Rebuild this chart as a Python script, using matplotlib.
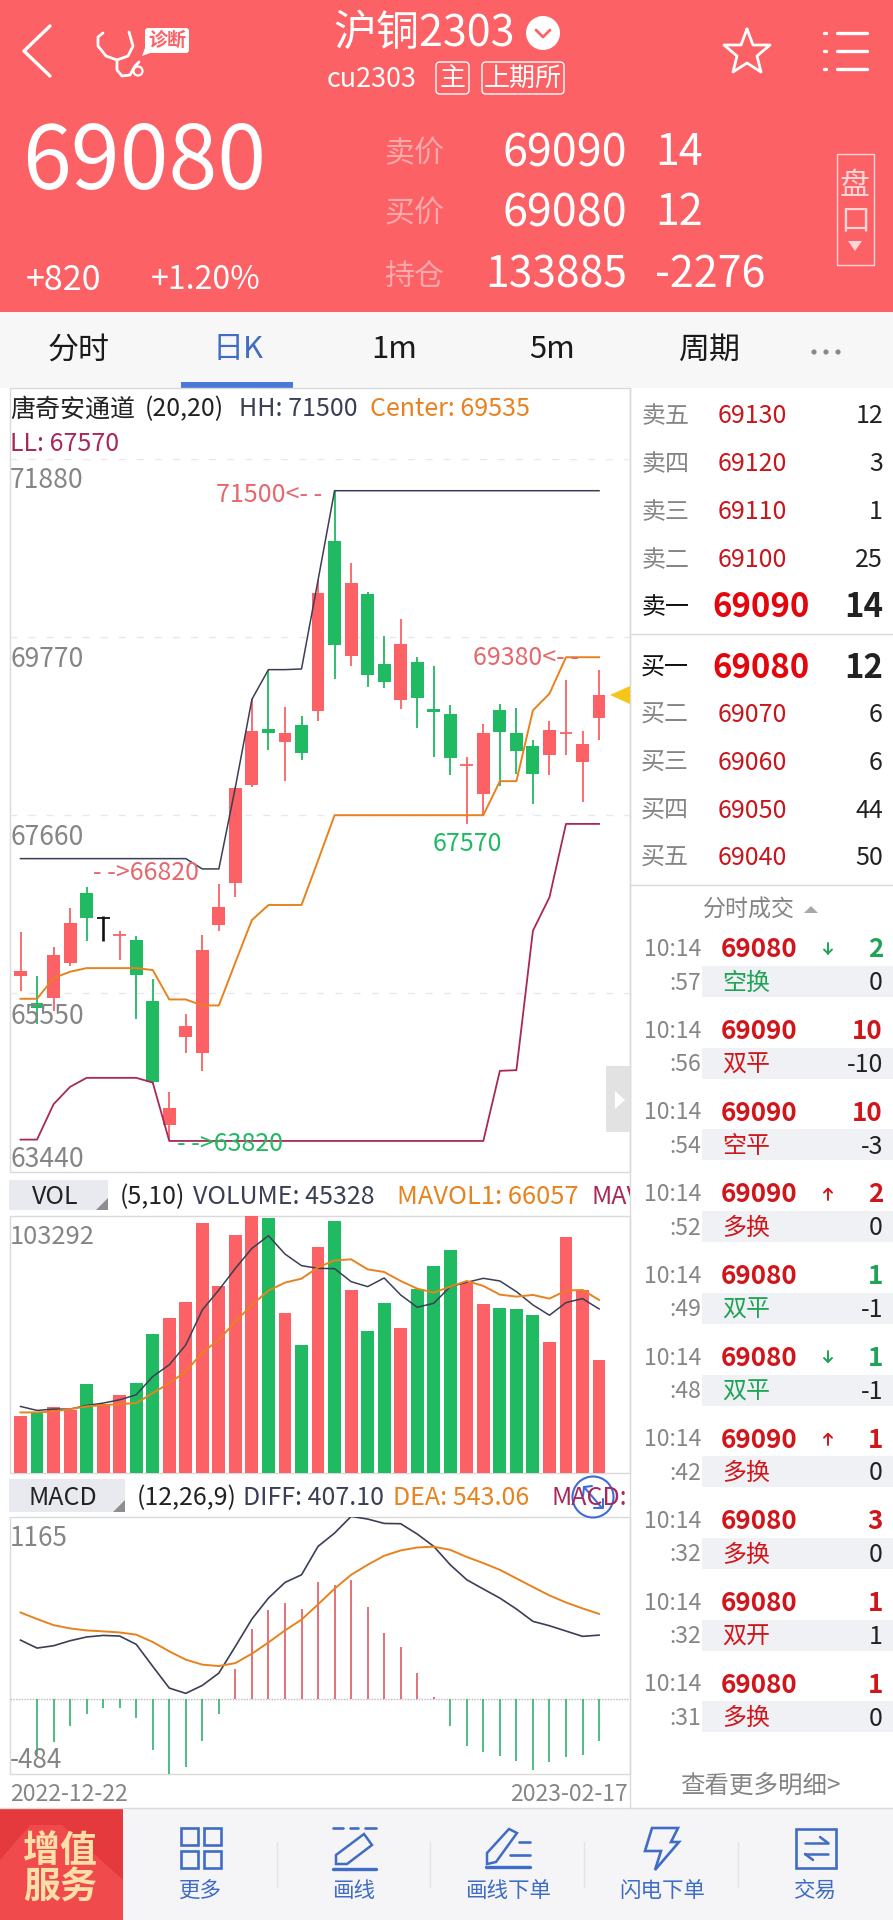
import matplotlib
matplotlib.use('Agg')
import matplotlib.pyplot as plt
from matplotlib.patches import Rectangle, Polygon, Circle, FancyBboxPatch

plt.rcParams['font.family'] = ['Noto Sans CJK SC', 'DejaVu Sans']

# K line
highs = [66281, 65760, 66103, 66566, 66807, 66471, 66293, 66230, 65720, 64385, 65305, 66246,
         66846, 67990, 69032, 69376, 68941, 68830, 70442, 71501, 70648, 70300, 69783, 69988,
         69534, 69427, 68969, 68348, 68743, 68973, 68929, 68546, 68775, 69257, 68657, 69376]
lows = [65582, 65187, 65345, 65878, 66174, 66167, 65949, 65250, 64480, 63820, 64851, 64634,
        66285, 66688, 67990, 68427, 68059, 68317, 68775, 69277, 69423, 69178, 69170, 68921,
        68696, 68348, 68139, 67557, 67656, 68000, 68151, 67794, 68131, 68368, 67814, 68554]
opens = [65760, 65432, 65495, 65910, 66739, 66439, 66242, 66182, 65463, 63990, 65029, 64851,
         66364, 66854, 68012, 68676, 68522, 68732, 68894, 70901, 69549, 70280, 69455, 69020,
         69474, 68917, 68862, 68250, 67913, 68909, 68633, 68479, 68376, 68637, 68285, 68807]
closes = [65819, 65372, 66005, 66384, 66439, 66439, 66242, 65764, 64507, 64199, 65167, 66068,
          66570, 67984, 68653, 68633, 68633, 68396, 70292, 69680, 70411, 69324, 69237, 69692,
          69052, 68886, 68337, 68250, 68633, 68641, 68415, 68151, 68672, 68637, 68498, 69080]
candle_dir = ['r', 'g', 'r', 'r', 'g', 'k', 'r', 'g', 'g', 'r', 'r', 'r', 'r', 'r', 'r', 'g', 'r', 'g',
              'r', 'g', 'r', 'g', 'g', 'r', 'g', 'g', 'g', 'r', 'r', 'g', 'g', 'g', 'r', 'r', 'r', 'r']
hh = [67146, 67146, 67146, 67146, 67146, 67146, 67146, 67146, 67146, 67146, 67146, 67024,
      67024, 67992, 69032, 69383, 69383, 69391, 70442, 71501, 71501, 71501, 71501, 71501,
      71501, 71501, 71501, 71501, 71501, 71501, 71501, 71501, 71501, 71501, 71501, 71501]
center = [65487, 65487, 65732, 65807, 65850, 65850, 65850, 65850, 65827, 65479, 65479, 65408,
          65408, 65918, 66419, 66597, 66597, 66597, 67123, 67660, 67660, 67660, 67660, 67660,
          67660, 67660, 67660, 67660, 67660, 68063, 68063, 68901, 69099, 69530, 69530, 69530]
ll = [63820, 63820, 64239, 64444, 64551, 64551, 64551, 64551, 64495, 63804, 63804, 63804,
      63804, 63804, 63804, 63804, 63804, 63804, 63804, 63804, 63804, 63804, 63804, 63804,
      63804, 63804, 63804, 63804, 63804, 64634, 64642, 66293, 66688, 67557, 67557, 67557]
price_ticks = [71880, 69770, 67660, 65550, 63440]

# VOL
volume = [22979, 24315, 26453, 25384, 35538, 27789, 31262, 36206, 55845, 62124, 68670, 100467,
          75083, 95524, 103273, 102204, 64128, 51436, 90848, 101269, 73346, 57047, 68403, 58383,
          73881, 82966, 89512, 76152, 68002, 66399, 65731, 63460, 52772, 94589, 73346, 45328]
vol_dir = ['r', 'g', 'r', 'r', 'g', 'r', 'r', 'g', 'g', 'r', 'r', 'r', 'r', 'r', 'r', 'g', 'r', 'g',
           'r', 'g', 'r', 'g', 'g', 'r', 'g', 'g', 'g', 'r', 'r', 'g', 'g', 'g', 'r', 'r', 'r', 'r']
mavol_dark = [26720, 25117, 25651, 25651, 27121, 28056, 29392, 31396, 38744, 43420, 51436, 65464,
              73480, 82164, 90180, 95257, 87909, 83233, 82164, 82030, 76820, 74816, 78290, 71476,
              66533, 68136, 74816, 76553, 78156, 77087, 72812, 67468, 63326, 68403, 70006, 65865]
mavol_orange = [24315, 24315, 24716, 25651, 26720, 27254, 27655, 28056, 32064, 36072, 40748, 48363,
                53440, 60788, 67468, 73213, 76419, 78022, 82565, 85370, 85771, 81763, 80694, 77087,
                74014, 72411, 74816, 77087, 75083, 71610, 70808, 71476, 70006, 73213, 73480, 69472]

# MACD
diff = [375, 324, 339, 371, 395, 405, 401, 348, 207, 68, 34, 85, 164, 335, 510, 644, 744, 793,
        975, 1060, 1167, 1150, 1122, 1120, 1054, 975, 857, 761, 702, 644, 574, 495, 467, 433, 399, 407]
dea = [552, 510, 471, 450, 437, 431, 424, 410, 363, 303, 250, 218, 209, 228, 288, 360, 437, 506,
       604, 704, 793, 857, 915, 949, 968, 973, 953, 907, 868, 825, 770, 715, 661, 616, 578, 543]
macd = [0, -358, -279, -173, -100, -58, -58, -126, -326, -482, -439, -273, -100, 192, 446, 567, 614, 572,
        747, 725, 757, 589, 418, 333, 164, 11, -173, -305, -343, -365, -401, -454, -407, -375, -358, -269]

# 盘口
ask_labels = ['卖五', '卖四', '卖三', '卖二', '卖一']
ask_prices = [69130, 69120, 69110, 69100, 69090]
ask_qty = [12, 3, 1, 25, 14]
bid_labels = ['买一', '买二', '买三', '买四', '买五']
bid_prices = [69080, 69070, 69060, 69050, 69040]
bid_qty = [12, 6, 6, 44, 50]

# 分时成交
tick_sec = [':57', ':56', ':54', ':52', ':49', ':48', ':42', ':32', ':32', ':31']
tick_price = [69080, 69090, 69090, 69090, 69080, 69080, 69090, 69080, 69080, 69080]
tick_arrow = ['d', '', '', 'u', '', 'd', 'u', '', '', '']
tick_qty = [2, 10, 10, 2, 1, 1, 1, 3, 1, 1]
tick_type = ['空换', '双平', '空平', '多换', '双平', '双平', '多换', '多换', '双开', '多换']
tick_side = ['g', 'r', 'r', 'r', 'g', 'g', 'r', 'r', 'r', 'r']
tick_change = [0, -10, -3, 0, -1, -1, 0, 0, 1, 0]

tab_labels = ['分时', '日K', '1m', '5m', '周期']
nav_labels = ['更多', '画线', '画线下单', '闪电下单', '交易']

W, H = 893, 1920
RED = '#FB6165'
GREEN = '#1FBA62'
DARK = '#3A3F55'
ORANGE = '#E8821E'
CRIMSON = '#A8285A'
GRAY = '#858585'
BLUE = '#3F6CC4'
DEEP = '#D0161B'
colors = {'r': RED, 'g': GREEN, 'k': '#111111'}

fig = plt.figure(figsize=(W / 100, H / 100), dpi=100, facecolor='white')


def pixel_axes(left, top, right, bottom, z):
    a = fig.add_axes([left / W, 1 - bottom / H, (right - left) / W, (bottom - top) / H], zorder=z)
    a.patch.set_alpha(0)
    a.set_axis_off()
    return a


bg = pixel_axes(0, 0, W, H, 0)
bg.set_xlim(0, W)
bg.set_ylim(H, 0)
ui = pixel_axes(0, 0, W, H, 5)
ui.set_xlim(0, W)
ui.set_ylim(H, 0)


def txt(x, y, s, px, color, ha='left', weight='normal', **kw):
    # the digits of this font sit a little high, so push the text down with its size
    if y > 388:
        y = y + 2
    return ui.text(x, y + 0.09 * px, s, fontsize=px * 0.72, color=color, ha=ha, va='center', fontweight=weight, **kw)


def rect(a, x0, y0, x1, y1, color, **kw):
    a.add_patch(Rectangle((x0, y0), x1 - x0, y1 - y0, facecolor=color, edgecolor='none', **kw))


def stroke(xs, ys, color='white', lw=1.8, a=None, **kw):
    (a or ui).plot(xs, ys, color=color, lw=lw, solid_capstyle='round', solid_joinstyle='round', **kw)


# backgrounds
rect(bg, 0, 0, W, 312, RED)
rect(bg, 0, 312, W, 388, '#F7F7F7')
rect(bg, 181, 382, 293, 388, '#4A78D8')
rect(bg, 0, 1808, W, H, '#F5F5F7')

# header
stroke([50, 24, 50], [26, 51, 76], lw=2.4)
stroke([103, 98, 98, 106, 117, 128, 133, 129], [33, 37, 46, 56, 60, 56, 46, 32], lw=2)
stroke([117, 117, 122, 130, 135, 139], [60, 70, 76, 75, 66, 62], lw=2)
ui.add_patch(Circle((138, 71), 4.5, fill=False, edgecolor='white', lw=1.6))
ui.add_patch(FancyBboxPatch((145, 28), 44, 25, boxstyle='round,pad=0,rounding_size=3', fc='white', ec='none'))
ui.add_patch(Polygon([(145, 48), (142, 56), (153, 52)], fc='white', ec='none'))
txt(167, 39, '诊断', 19, RED, ha='center', weight='bold', style='italic')

txt(424, 30, '沪铜2303', 43, 'white', ha='center')
ui.add_patch(Circle((543, 33), 17, fc='white', ec='none'))
stroke([536, 543, 550], [30, 37, 30], color=RED, lw=2)
txt(327, 77, 'cu2303', 27, 'white')
for x0, x1, s in [(436, 469, '主'), (482, 564, '上期所')]:
    ui.add_patch(FancyBboxPatch((x0, 62), x1 - x0, 32, boxstyle='round,pad=0,rounding_size=4',
                                fc='none', ec='white', lw=1))
    txt((x0 + x1) / 2, 76, s, 26, 'white', ha='center')
star_x = [747, 753, 770, 757, 761, 747, 733, 737, 724, 741, 747]
star_y = [29, 45, 45, 56, 72, 63, 72, 56, 45, 45, 29]
stroke(star_x, star_y, lw=2)
for y in [33, 51, 69]:
    stroke([837, 867], [y, y], lw=2.4)
    stroke([824, 826], [y, y], lw=2.4)

txt(144, 156, '69080', 88, 'white', ha='center')
txt(26, 277, '+820', 34, 'white')
txt(151, 277, '+1.20%', 32, 'white')
PINK = '#FDA9AB'
for y, lab, v1, v1_px, v2 in [(149, '卖价', '69090', 45, '14'), (209, '买价', '69080', 45, '12'),
                              (272, '持仓', '133885', 42.5, '-2276')]:
    txt(384, y + 2, lab, 30, PINK)
    txt(627, y, v1, v1_px, 'white', ha='right')
    txt(655, y, v2, 43, 'white')
ui.add_patch(Rectangle((837, 154), 37, 111, fc='none', ec='#FFD5D6', lw=1))
txt(855, 183, '盘', 30, '#FFD5D6', ha='center')
txt(855, 218, '口', 30, '#FFD5D6', ha='center')
ui.add_patch(Polygon([(848, 241), (862, 241), (855, 251)], fc='#FFD5D6', ec='none'))

for x, s in zip([79, 238, 394, 552, 710], tab_labels):
    txt(x, 347, s, 31, BLUE if s == '日K' else '#1A1A1A', ha='center')
for x in [814, 826, 838]:
    ui.add_patch(Circle((x, 352), 2.6, fc='#8A8A8A', ec='none'))

# chart frames and sub panel headers
BORDER = '#DADADA'
for top, bottom in [(388, 1172), (1216, 1473), (1517, 1774)]:
    bg.add_patch(Rectangle((9.5, top), 620.5, bottom - top, fc='white', ec=BORDER, lw=1))
bg.plot([630, 630], [388, 1808], color=BORDER, lw=1)
bg.plot([0, W], [1808, 1808], color=BORDER, lw=1)
for x1, y0, y1 in [(108, 1180, 1210), (125, 1479, 1512)]:
    rect(bg, 9, y0, x1, y1, '#E8EAF0')
    ui.add_patch(Polygon([(x1, y1), (x1 - 12, y1), (x1, y1 - 12)], fc='#8E8E8E', ec='none'))

# shared x scale: candle i sits at 20.5 + 16.53 * i px
X_LEFT = (10 - 20.5) / 16.53
X_RIGHT = (630 - 20.5) / 16.53
idx = list(range(len(closes)))

ax_k = pixel_axes(10, 458.7, 630, 1171.7, 2)
ax_k.set_xlim(X_LEFT, X_RIGHT)
ax_k.set_ylim(price_ticks[-1], price_ticks[0])
for p in price_ticks:
    ax_k.axhline(p, color='#E8E8E8', lw=1, dashes=(5, 8), zorder=1)
for i in idx:
    c = colors[candle_dir[i]]
    wick = 1.9 if candle_dir[i] == 'k' else 1.3
    ax_k.vlines(i, lows[i], highs[i], color=c, lw=wick, zorder=2)
    if opens[i] == closes[i]:
        ax_k.hlines(opens[i], i - 0.39, i + 0.39, color=c, lw=1.3, zorder=2)
    else:
        ax_k.bar(i, abs(closes[i] - opens[i]), bottom=min(opens[i], closes[i]), width=0.78, color=c, zorder=2)
ax_k.plot(idx, hh, color=DARK, lw=1.1, zorder=3)
ax_k.plot(idx, center, color=ORANGE, lw=1.4, zorder=3)
ax_k.plot(idx, ll, color=CRIMSON, lw=1.3, zorder=3)

ax_v = pixel_axes(10, 1215.7, 630, 1473, 2)
ax_v.set_xlim(X_LEFT, X_RIGHT)
ax_v.set_ylim(0, 103292)
ax_v.bar(idx, volume, width=0.78, color=[colors[d] for d in vol_dir], zorder=2)
ax_v.plot(idx, mavol_dark, color=DARK, lw=1.1, zorder=3)
ax_v.plot(idx, mavol_orange, color=ORANGE, lw=1.4, zorder=3)

ax_m = pixel_axes(10, 1516.7, 630, 1774.3, 2)
ax_m.set_xlim(X_LEFT, X_RIGHT)
ax_m.set_ylim(-484, 1165)
ax_m.axhline(0, color='#BBBBBB', lw=1, dashes=(1, 1), zorder=1)
for i in idx:
    if macd[i] != 0:
        ax_m.vlines(i, 0, macd[i], color='#DE5A60' if macd[i] > 0 else '#2DB36E', lw=1.2, zorder=2)
ax_m.plot(idx, diff, color=DARK, lw=1.2, zorder=3)
ax_m.plot(idx, dea, color=ORANGE, lw=1.4, zorder=3)

# chart texts
txt(10, 405, '唐奇安通道', 25, '#222222')
txt(145, 405, '(20,20)', 25, '#222222')
txt(239, 405, 'HH: 71500', 25, DARK)
txt(370, 405, 'Center: 69535', 25, ORANGE)
txt(10, 440, 'LL: 67570', 25, CRIMSON)
for y, s in [(476, '71880'), (655, '69770'), (833, '67660'), (1012, '65550'), (1155, '63440')]:
    txt(10, y, s, 26.5, GRAY)
ANNO_RED = '#E4686C'
txt(216, 491, '71500<- -', 25, ANNO_RED)
txt(473, 654, '69380<- -', 25, ANNO_RED)
txt(93, 869, '- ->66820', 25, ANNO_RED)
txt(177, 1140, '- ->63820', 25, GREEN)
txt(467, 840, '67570', 25, GREEN, ha='center')
ui.add_patch(Polygon([(610, 695), (630, 686), (630, 704)], fc='#F5C518', ec='none'))
rect(ui, 606, 1066, 630, 1132, '#E2E2E2')
ui.add_patch(Polygon([(615, 1091), (615, 1109), (625, 1100)], fc='white', ec='none'))

txt(55, 1193, 'VOL', 25, '#222222', ha='center')
txt(120, 1193, '(5,10)', 25, '#222222')
txt(193, 1193, 'VOLUME: 45328', 25, DARK)
txt(397, 1193, 'MAVOL1: 66057', 25.5, ORANGE)
mav = txt(591, 1193, 'MAV', 25, CRIMSON)
mav.set_clip_on(True)
mav.set_clip_path(Rectangle((0, 1170), 630, 50, transform=ui.transData))
txt(10, 1233, '103292', 25.5, GRAY)

txt(63, 1494, 'MACD', 25, '#222222', ha='center')
txt(137, 1494, '(12,26,9)', 25, '#222222')
txt(243, 1494, 'DIFF: 407.10', 25, DARK)
txt(393, 1494, 'DEA: 543.06', 25, ORANGE)
txt(551, 1494, 'MACD:', 25, CRIMSON)
ui.add_patch(Circle((593, 1497), 20.5, fc='none', ec='#3D6BD8', lw=1.5))
stroke([584, 602], [1487, 1508], color='#3D6BD8', lw=1.5)
stroke([583, 584, 592], [1496, 1487, 1486], color='#3D6BD8', lw=1.5)
stroke([594, 603, 603], [1508, 1508, 1499], color='#3D6BD8', lw=1.5)
txt(10, 1534, '1165', 26, GRAY)
txt(10, 1756, '-484', 26, GRAY)
txt(10, 1790, '2022-12-22', 23, GRAY)
txt(628, 1790, '2023-02-17', 23, GRAY, ha='right')

# 盘口 column
ask_y = [413, 461, 509, 557, 604]
bid_y = [665, 712, 760, 808, 855]
for labs, prices, qtys, ys, best in [(ask_labels, ask_prices, ask_qty, ask_y, 4), (bid_labels, bid_prices, bid_qty, bid_y, 0)]:
    for k, y in enumerate(ys):
        if k == best:
            txt(641, y - 1, labs[k], 24, '#111111')
            txt(761, y - 1, str(prices[k]), 33, '#E3070D', ha='center', weight='bold')
            txt(883, y - 1, str(qtys[k]), 33, '#222222', ha='right', weight='bold')
        else:
            txt(641, y - 1, labs[k], 24, GRAY)
            txt(752, y - 1, str(prices[k]), 25, '#C8161D', ha='center')
            txt(883, y - 1, str(qtys[k]), 25, '#222222', ha='right')
bg.plot([630, W], [634, 634], color=BORDER, lw=1)
bg.plot([630, W], [885, 885], color=BORDER, lw=1)

# 分时成交
txt(748, 906, '分时成交', 23, GRAY, ha='center')
ui.add_patch(Polygon([(804, 913), (818, 913), (811, 906)], fc='#A8A8A8', ec='none'))
for k in range(len(tick_sec)):
    y1 = 948.5 + 81.7 * k
    y2 = y1 + 33.5
    rect(bg, 702, y1 + 17.5, W, y1 + 48.5, '#EFF1F4')
    side = '#1FA355' if tick_side[k] == 'g' else DEEP
    txt(701, y1 - 3, '10:14', 23, GRAY, ha='right')
    txt(701, y2 - 3, tick_sec[k], 23, GRAY, ha='right')
    txt(759, y1 - 3, str(tick_price[k]), 26, DEEP, ha='center', weight='bold')
    if tick_arrow[k] == 'd':
        stroke([828, 828], [y1 - 6, y1 + 5], color='#1FA355', lw=1.4)
        stroke([824, 828, 832], [y1 + 1, y1 + 5, y1 + 1], color='#1FA355', lw=1.4)
    elif tick_arrow[k] == 'u':
        stroke([828, 828], [y1 - 5, y1 + 6], color=DEEP, lw=1.4)
        stroke([824, 828, 832], [y1 - 1, y1 - 5, y1 - 1], color=DEEP, lw=1.4)
    txt(883, y1 - 3, str(tick_qty[k]), 26, side, ha='right', weight='bold')
    txt(722, y2 - 3, tick_type[k], 24, side)
    txt(883, y2 - 3, str(tick_change[k]), 25, '#222222', ha='right')
txt(760, 1782, '查看更多明细>', 24.5, GRAY, ha='center')

# bottom nav
rect(bg, 0, 1808, 123, H, '#E53A3D')
bg.add_patch(Polygon([(0, 1860), (30, 1825), (62, 1825), (123, 1880), (123, H), (0, H)], fc='#F04A4C', ec='none'))
txt(60, 1846, '增值', 37, '#FBDFA8', ha='center', weight='bold', style='italic')
txt(60, 1882, '服务', 37, '#FBDFA8', ha='center', weight='bold', style='italic')
for x in [277, 430, 584, 738]:
    bg.plot([x, x], [1842, 1887], color='#E4E4E8', lw=1)
for x, s in zip([200, 354, 508, 662, 815], nav_labels):
    txt(x, 1887, s, 21.5, BLUE, ha='center')
for x0, y0 in [(181, 1828), (204, 1828), (181, 1851), (204, 1851)]:
    ui.add_patch(Rectangle((x0, y0), 17, 17, fc='none', ec=BLUE, lw=1.9))
# 画线
stroke([333, 343], [1828, 1828], color=BLUE, lw=1.9)
stroke([350, 358], [1828, 1828], color=BLUE, lw=1.9)
stroke([365, 376], [1828, 1828], color=BLUE, lw=1.9)
stroke([333, 376], [1869, 1869], color=BLUE, lw=2.4)
ui.add_patch(Polygon([(364, 1834), (372, 1845), (347, 1864), (336, 1864), (336, 1855)], fc='none', ec=BLUE, lw=1.8))
# 画线下单
ui.add_patch(Polygon([(509, 1829), (517, 1833), (496, 1862), (487, 1864), (487, 1853)], fc='none', ec=BLUE, lw=1.8))
stroke([519, 530], [1842, 1842], color=BLUE, lw=1.9)
stroke([510, 530], [1855, 1855], color=BLUE, lw=1.9)
stroke([486, 530], [1867, 1867], color=BLUE, lw=2.4)
# 闪电下单
ui.add_patch(Polygon([(652, 1828), (678, 1828), (671, 1842), (679, 1842), (655, 1870), (661, 1851), (645, 1851)],
                     fc='none', ec=BLUE, lw=1.9))
# 交易
ui.add_patch(Rectangle((796, 1829), 40, 39, fc='none', ec=BLUE, lw=1.9))
stroke([805, 828], [1843, 1843], color=BLUE, lw=1.8)
stroke([820, 828], [1837, 1843], color=BLUE, lw=1.8)
stroke([805, 828], [1854, 1854], color=BLUE, lw=1.8)
stroke([805, 813], [1854, 1860], color=BLUE, lw=1.8)

fig.savefig('out.png', dpi=100)
